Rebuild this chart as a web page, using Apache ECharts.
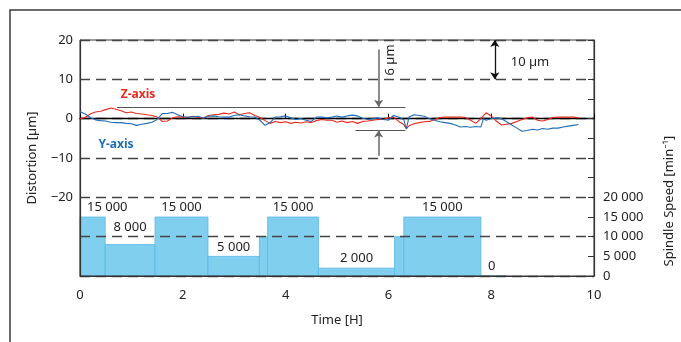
<!DOCTYPE html>
<html>
<head>
<meta charset="utf-8">
<script src="https://cdn.jsdelivr.net/npm/echarts@6/dist/echarts.min.js"></script>
<style>
  html, body { margin: 0; padding: 0; background: #fff; }
  #chart { width: 681px; height: 342px; }
</style>
</head>
<body>
<div id="chart"></div>
<script>
// distortion readings, [time h, µm]
const zAxisData = [
  [0.0, 0.0], [0.1, 0.3], [0.2, 1.2], [0.3, 1.7], [0.4, 1.9], [0.5, 2.3], [0.6, 2.7], [0.7, 2.4],
  [0.8, 2.0], [0.9, 1.5], [1.0, 1.7], [1.1, 1.3], [1.2, 1.2], [1.3, 1.0], [1.4, 0.8], [1.5, 0.4],
  [1.6, -0.7], [1.7, -0.6], [1.8, 0.2], [1.9, 0.5], [2.0, 0.4], [2.1, 0.3], [2.2, 0.6], [2.3, 0.3],
  [2.4, 0.2], [2.5, 0.8], [2.6, 1.0], [2.7, 1.1], [2.8, 1.4], [2.9, 1.2], [3.0, 1.7], [3.1, 1.0],
  [3.2, 1.3], [3.3, 1.5], [3.4, 0.8], [3.5, 0.3], [3.6, -0.5], [3.7, -1.2], [3.8, -0.7], [3.9, -1.0],
  [4.0, -0.8], [4.1, -1.2], [4.2, -0.9], [4.3, -1.1], [4.4, -0.8], [4.5, -1.0], [4.6, -0.5], [4.7, -0.2],
  [4.8, -0.4], [4.9, -0.4], [5.0, -0.9], [5.1, -0.6], [5.2, -1.0], [5.3, -0.7], [5.4, -1.2], [5.5, -0.7],
  [5.6, -0.6], [5.7, -0.4], [5.8, -0.2], [5.9, -0.2], [6.0, 0.2], [6.1, 0.4], [6.2, -0.7], [6.3, -1.5],
  [6.35, -2.6], [6.4, -1.8], [6.5, -1.3], [6.6, -1.0], [6.7, -0.8], [6.8, -0.7], [6.9, -0.2], [7.0, 0.3],
  [7.1, 0.4], [7.2, 0.4], [7.3, 0.4], [7.4, 0.4], [7.5, 0.3], [7.6, -0.4], [7.7, -1.2], [7.8, 0.0],
  [7.9, 1.5], [8.0, 0.7], [8.1, -0.6], [8.2, -1.6], [8.3, -1.4], [8.4, -1.2], [8.5, -0.7], [8.6, -0.2],
  [8.7, 0.2], [8.8, 0.4], [8.9, -0.4], [9.0, -0.6], [9.1, -0.2], [9.2, 0.3], [9.3, 0.4], [9.4, 0.4],
  [9.5, 0.4], [9.6, 0.4], [9.7, 0.2]
]
const yAxisData = [
  [0.0, 1.8], [0.1, 1.2], [0.2, 0.3], [0.3, -0.3], [0.4, -0.5], [0.5, -0.6], [0.6, -0.9], [0.7, -1.0],
  [0.8, -1.0], [0.9, -1.2], [1.0, -1.3], [1.1, -1.7], [1.2, -1.4], [1.3, -1.2], [1.4, -0.9], [1.5, -0.2],
  [1.6, 1.3], [1.7, 1.3], [1.8, 1.6], [1.9, 1.0], [2.0, 0.5], [2.1, 0.4], [2.2, 0.5], [2.3, 0.6],
  [2.4, 0.1], [2.5, 0.6], [2.6, 0.7], [2.7, 0.5], [2.8, 0.4], [2.9, 0.4], [3.0, 0.8], [3.1, 1.0],
  [3.2, 0.7], [3.3, 0.5], [3.4, 0.4], [3.5, -0.4], [3.6, -1.7], [3.7, -1.0], [3.8, 0.4], [3.9, 0.5],
  [4.0, 0.7], [4.1, 0.2], [4.2, -0.2], [4.3, 0.0], [4.4, -0.4], [4.5, -0.7], [4.6, 0.4], [4.7, 0.4],
  [4.8, 0.2], [4.9, 0.4], [5.0, 0.7], [5.1, 0.4], [5.2, 0.7], [5.3, 0.9], [5.4, 0.7], [5.5, 0.1],
  [5.6, -0.2], [5.7, 0.0], [5.8, 0.2], [5.9, -0.2], [6.0, -0.4], [6.1, 0.8], [6.2, 0.4], [6.3, -0.3],
  [6.35, -2.6], [6.4, 0.4], [6.5, 1.0], [6.6, 0.8], [6.7, 0.6], [6.8, 0.0], [6.9, -0.4], [7.0, -0.8],
  [7.1, -1.0], [7.2, -1.2], [7.3, -1.6], [7.4, -2.1], [7.5, -2.0], [7.6, -2.2], [7.7, -2.0], [7.8, -2.1],
  [7.85, 0.0], [7.9, -0.4], [8.0, 0.0], [8.1, 0.2], [8.2, 0.0], [8.3, -0.8], [8.4, -1.6], [8.5, -2.4],
  [8.6, -3.2], [8.7, -3.0], [8.8, -2.7], [8.9, -2.9], [9.0, -2.5], [9.1, -2.7], [9.2, -2.4], [9.3, -2.4],
  [9.4, -2.1], [9.5, -1.9], [9.6, -1.7], [9.7, -1.5]
]
// spindle speed program: [from h, to h, min-1]
const speedSteps = [
  [0, 0.49, 15000], [0.49, 1.46, 8000], [1.46, 2.49, 15000], [2.49, 3.49, 5000],
  [3.49, 3.65, 10000], [3.65, 4.64, 15000], [4.64, 6.12, 2000], [6.12, 6.30, 10000],
  [6.30, 7.80, 15000], [7.80, 8.30, 0]
]
const speedLabels = ['15 000', '8 000', '15 000', '5 000', '', '15 000', '2 000', '', '15 000', '0']
const distortionTicks = [20, 10, 0, -10, -20]
const speedTicks = [0, 5000, 10000, 15000, 20000]

const font = "'Noto Sans', sans-serif"
const textColor = '#222'

function spaced (v) {
  return String(v).replace(/\B(?=(\d{3})+(?!\d))/g, ' ')
}

const myChart = echarts.init(document.getElementById('chart'))
const option = {
  animation: false,
  textStyle: { fontFamily: font, color: textColor },
  grid: {
    left: 80, right: 87, top: 40, bottom: 66,
    show: true, borderColor: '#333', borderWidth: 1
  },
  xAxis: [
    {
      type: 'value', min: 0, max: 10, interval: 2,
      name: 'Time [H]', nameLocation: 'middle', nameGap: 38,
      nameTextStyle: { fontSize: 13, color: textColor, fontFamily: font },
      axisLine: { onZero: false, lineStyle: { color: '#333', width: 1.2 } },
      axisTick: { show: false },
      axisLabel: { margin: 13, fontSize: 13, color: textColor, fontFamily: font },
      splitLine: { show: false }
    },
    {
      // small ticks on the zero line
      type: 'value', min: 0, max: 10, interval: 2, position: 'bottom',
      axisLine: { onZero: true, onZeroAxisIndex: 0, lineStyle: { color: '#000', width: 1.4 } },
      axisTick: { inside: true, length: 5, lineStyle: { color: '#000' } },
      axisLabel: { show: false },
      splitLine: { show: false }
    }
  ],
  yAxis: [
    {
      type: 'value', min: -40, max: 20, interval: 10,
      name: 'Distortion [µm]', nameLocation: 'middle', nameGap: 41,
      nameTextStyle: { fontSize: 13, color: textColor, fontFamily: font },
      axisLine: { onZero: false, lineStyle: { color: '#333', width: 1.2 } },
      axisTick: { show: false },
      axisLabel: {
        margin: 7, fontSize: 13, color: textColor, fontFamily: font,
        formatter: v => distortionTicks.includes(v) ? (v < 0 ? '\u2212' + Math.abs(v) : String(v)) : ''
      },
      splitLine: { show: true, lineStyle: { color: '#444', width: 1.3, type: [10, 6] } }
    },
    {
      type: 'value', min: 0, max: 60000, interval: 5000, position: 'right',
      axisLine: { show: true, onZero: false, lineStyle: { color: '#333', width: 1.2 } },
      axisTick: { show: true, inside: true, length: 6, lineStyle: { color: '#333' } },
      axisLabel: {
        margin: 9, fontSize: 13, color: textColor, fontFamily: font,
        formatter: v => speedTicks.includes(v) ? spaced(v) : ''
      },
      splitLine: { show: false }
    }
  ],
  graphic: [
    {
      type: 'rect', silent: true,
      shape: { x: 10, y: 10, width: 800, height: 500 },
      style: { fill: 'none', stroke: '#3a3a3a', lineWidth: 1.5 }
    },
    {
      type: 'text', x: 669, y: 201, rotation: Math.PI / 2,
      style: { text: 'Spindle Speed [min⁻¹]', font: '13px ' + font, fill: textColor, align: 'center', verticalAlign: 'middle' }
    },
    {
      type: 'text', x: 390, y: 60, rotation: Math.PI / 2,
      style: { text: '6 µm', font: '13px ' + font, fill: textColor, align: 'center', verticalAlign: 'middle' }
    },
    {
      type: 'text', x: 530, y: 62,
      style: { text: '10 µm', font: '13px ' + font, fill: textColor, align: 'center', verticalAlign: 'middle' }
    },
    {
      type: 'text', x: 138, y: 95,
      style: { text: 'Z-axis', font: 'bold 12px ' + font, fill: '#e8291f', align: 'center', verticalAlign: 'middle' }
    },
    {
      type: 'text', x: 116, y: 145,
      style: { text: 'Y-axis', font: 'bold 12px ' + font, fill: '#1f6db6', align: 'center', verticalAlign: 'middle' }
    }
  ],
  series: [
    {
      name: 'Spindle Speed',
      type: 'custom',
      xAxisIndex: 0,
      yAxisIndex: 1,
      z: -1,
      silent: true,
      encode: { x: [0, 1], y: 2 },
      data: speedSteps,
      renderItem (params, api) {
        const p0 = api.coord([api.value(0), api.value(2)])
        const p1 = api.coord([api.value(1), 0])
        const w = p1[0] - p0[0]
        const label = speedLabels[params.dataIndex]
        const narrow = w < 40
        // keep the label clear of the 10 000 dashed line
        const gridY = api.coord([0, 10000])[1]
        let labelY = p0[1] - 3
        if (labelY > gridY - 3 && labelY - 13 < gridY) labelY = gridY - 3
        return {
          type: 'group',
          children: [
            {
              type: 'rect',
              shape: { x: p0[0], y: p0[1], width: w, height: p1[1] - p0[1] },
              style: { fill: '#80cfef', stroke: '#5ab8e3', lineWidth: 0.8 }
            },
            {
              type: 'text',
              style: {
                text: label,
                x: narrow ? p0[0] + 7 : p0[0] + w / 2,
                y: labelY,
                align: narrow ? 'left' : 'center',
                verticalAlign: 'bottom',
                font: '13px ' + font,
                fill: textColor
              }
            }
          ]
        }
      }
    },
    {
      name: 'Z-axis',
      type: 'line',
      xAxisIndex: 0,
      yAxisIndex: 0,
      data: zAxisData,
      symbol: 'none',
      lineStyle: { color: '#e8291f', width: 1.1 },
      markLine: {
        silent: true,
        symbol: 'none',
        label: { show: false },
        data: [
          [
            { coord: [0.72, 3], lineStyle: { color: '#555', width: 1.2, type: 'solid' } },
            { coord: [6.33, 3] }
          ],
          [
            { coord: [5.36, -3], lineStyle: { color: '#555', width: 1.2, type: 'solid' } },
            { coord: [6.33, -3] }
          ],
          [
            { coord: [5.81, 17.6], symbol: 'none', lineStyle: { color: '#666', width: 1.5, type: 'solid' } },
            { coord: [5.81, 3], symbol: 'arrow', symbolSize: 7 }
          ],
          [
            { coord: [5.81, -9.4], symbol: 'none', lineStyle: { color: '#666', width: 1.5, type: 'solid' } },
            { coord: [5.81, -3], symbol: 'arrow', symbolSize: 7 }
          ],
          [
            { coord: [8.07, 20], symbol: 'arrow', symbolSize: 7, lineStyle: { color: '#111', width: 1.3, type: 'solid' } },
            { coord: [8.07, 10], symbol: 'arrow', symbolSize: 7 }
          ]
        ]
      }
    },
    {
      name: 'Y-axis',
      type: 'line',
      xAxisIndex: 0,
      yAxisIndex: 0,
      data: yAxisData,
      symbol: 'none',
      lineStyle: { color: '#1f6db6', width: 1.1 }
    }
  ]
}
myChart.setOption(option, true)
</script>
</body>
</html>
